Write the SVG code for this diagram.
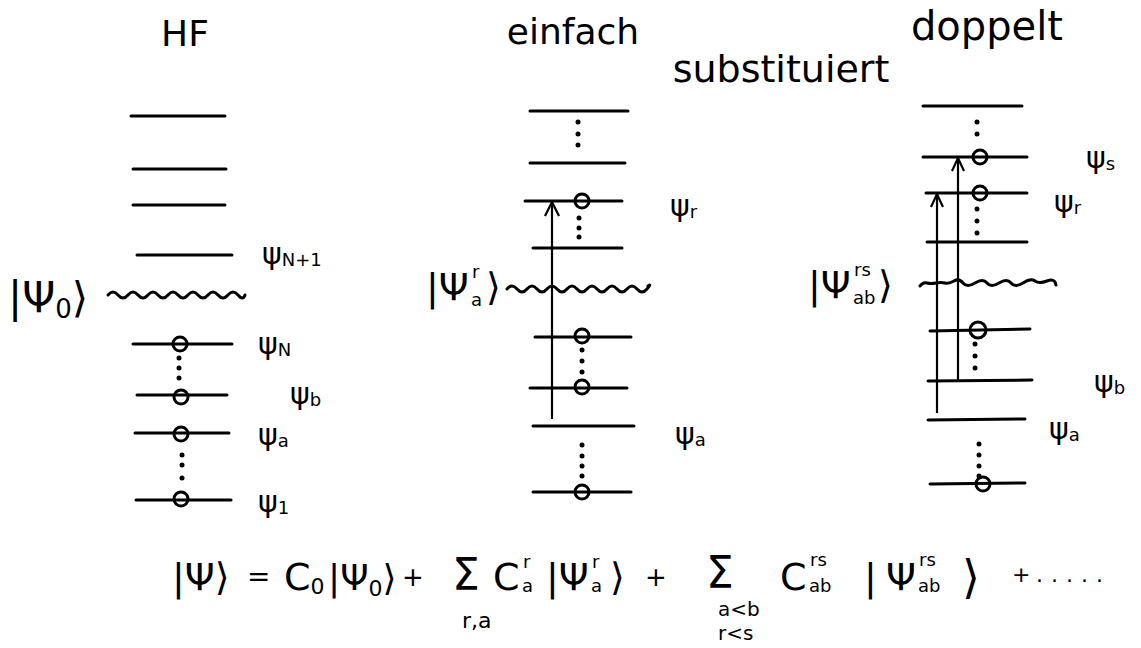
<svg xmlns="http://www.w3.org/2000/svg" width="1141" height="648" viewBox="0 0 1141 648">
<style>
  .lvl { stroke:#000; stroke-width:3; stroke-linecap:round; fill:none; }
  .wave { stroke:#000; stroke-width:3; stroke-linecap:round; fill:none; }
  .occ { stroke:#000; stroke-width:3; fill:none; }
  .dot { fill:#000; }
  .arr { stroke:#000; stroke-width:2.2; fill:none; }
  .t { font-family:"DejaVu Sans","Liberation Sans",sans-serif; fill:#000; }
  .title { font-size:36px; }
  .lab { font-size:30px; }
  .idx { font-size:18px; }
  .ket { font-size:38px; }
  .eq { font-size:38px; }
</style>

<!-- HF column -->
<g id="hf">
  <text class="t title" x="185" y="46" text-anchor="middle">HF</text>
  <line class="lvl" x1="131" y1="116" x2="225" y2="116"/>
  <line class="lvl" x1="133" y1="169" x2="226" y2="169"/>
  <line class="lvl" x1="133" y1="205" x2="225" y2="205"/>
  <line class="lvl" x1="137" y1="255" x2="232" y2="255"/>
  <path class="wave" d="M108,295 q5,-6 10,0 t10,0 t10,0 t10,0 t10,0 t10,0 t10,0 t10,0 t10,0 t10,0 t10,0 t10,0 t10,0 t7,0"/>
  <line class="lvl" x1="133" y1="344" x2="232" y2="344"/>
  <circle class="occ" cx="180" cy="344" r="7"/>
  <circle class="dot" cx="179" cy="358" r="2.5"/><circle class="dot" cx="179" cy="368" r="2.5"/><circle class="dot" cx="179" cy="378" r="2.5"/>
  <line class="lvl" x1="137" y1="395" x2="227" y2="395"/>
  <circle class="occ" cx="181" cy="397" r="7"/>
  <line class="lvl" x1="135" y1="433" x2="229" y2="433"/>
  <circle class="occ" cx="181" cy="434" r="7"/>
  <circle class="dot" cx="182" cy="455" r="2.5"/><circle class="dot" cx="182" cy="465" r="2.5"/><circle class="dot" cx="182" cy="478" r="2.5"/>
  <line class="lvl" x1="136" y1="500" x2="231" y2="500"/>
  <circle class="occ" cx="181" cy="499" r="7"/>
  <text class="t lab" x="262" y="264">ψ<tspan class="idx" dy="2">N+1</tspan></text>
  <text class="t lab" x="258" y="354">ψ<tspan class="idx" dy="2">N</tspan></text>
  <text class="t lab" x="290" y="404">ψ<tspan class="idx" dy="2">b</tspan></text>
  <text class="t lab" x="258" y="445">ψ<tspan class="idx" dy="2">a</tspan></text>
  <text class="t lab" x="258" y="512">ψ<tspan class="idx" dy="2">1</tspan></text>
  <text class="t" x="8" y="312" style="font-size:42px">|Ψ<tspan style="font-size:26px" dy="6">0</tspan><tspan dy="-6">⟩</tspan></text>
</g>

<!-- einfach substituiert column -->
<g id="single">
  <text class="t title" x="573" y="44" text-anchor="middle">einfach</text>
  <text class="t" x="781" y="82" text-anchor="middle" style="font-size:38px">substituiert</text>
  <line class="lvl" x1="530" y1="111" x2="628" y2="111"/>
  <circle class="dot" cx="578" cy="122" r="2.5"/><circle class="dot" cx="578" cy="134" r="2.5"/><circle class="dot" cx="578" cy="145" r="2.5"/>
  <line class="lvl" x1="530" y1="163" x2="625" y2="163"/>
  <line class="lvl" x1="525" y1="201" x2="622" y2="201"/>
  <circle class="occ" cx="582" cy="201" r="7"/>
  <circle class="dot" cx="579" cy="218" r="2.5"/><circle class="dot" cx="579" cy="228" r="2.5"/><circle class="dot" cx="579" cy="237" r="2.5"/>
  <line class="lvl" x1="533" y1="248" x2="622" y2="248"/>
  <path class="wave" d="M507,289 q5,-6 10,0 t10,0 t10,0 t10,0 t10,0 t10,0 t10,0 t10,0 t10,0 t10,0 t10,0 t10,0 t10,0 t10,0 t1,-3"/>
  <line class="lvl" x1="535" y1="337" x2="631" y2="337"/>
  <circle class="occ" cx="582" cy="336" r="7"/>
  <circle class="dot" cx="582" cy="350" r="2.5"/><circle class="dot" cx="582" cy="361" r="2.5"/><circle class="dot" cx="582" cy="372" r="2.5"/>
  <line class="lvl" x1="530" y1="388" x2="627" y2="388"/>
  <circle class="occ" cx="582" cy="387" r="7"/>
  <line class="lvl" x1="533" y1="426" x2="634" y2="426"/>
  <circle class="dot" cx="582" cy="445" r="2.5"/><circle class="dot" cx="582" cy="456" r="2.5"/><circle class="dot" cx="582" cy="466" r="2.5"/><circle class="dot" cx="582" cy="476" r="2.5"/>
  <line class="lvl" x1="533" y1="492" x2="631" y2="492"/>
  <circle class="occ" cx="582" cy="492" r="7"/>
  <text class="t lab" x="670" y="216">ψ<tspan class="idx" dy="2">r</tspan></text>
  <text class="t lab" x="675" y="444">ψ<tspan class="idx" dy="2">a</tspan></text>
  <text class="t ket" x="426" y="300">|Ψ</text>
  <text class="t idx" x="472" y="278">r</text>
  <text class="t idx" x="471" y="306">a</text>
  <text class="t ket" x="486" y="300">⟩</text>
</g>

<!-- doppelt substituiert column -->
<g id="double">
  <text class="t" x="987" y="40" text-anchor="middle" style="font-size:40px">doppelt</text>
  <line class="lvl" x1="923" y1="106" x2="1022" y2="106"/>
  <circle class="dot" cx="977" cy="122" r="2.5"/><circle class="dot" cx="977" cy="134" r="2.5"/>
  <line class="lvl" x1="923" y1="157" x2="1027" y2="157"/>
  <circle class="occ" cx="980" cy="157" r="7"/>
  <line class="lvl" x1="926" y1="193" x2="1027" y2="193"/>
  <circle class="occ" cx="980" cy="193" r="7"/>
  <circle class="dot" cx="977" cy="209" r="2.5"/><circle class="dot" cx="977" cy="221" r="2.5"/><circle class="dot" cx="977" cy="233" r="2.5"/>
  <line class="lvl" x1="927" y1="242" x2="1027" y2="242"/>
  <path class="wave" d="M920,286 q3,-4 7,-3 t9,0 t9,0 t9,-2 t9,2 t12,0 t12,0 t12,0 t12,0 t12,0 t12,-2 t12,0 t9,4"/>
  <line class="lvl" x1="930" y1="331" x2="1030" y2="329"/>
  <circle class="occ" cx="978" cy="330" r="8"/>
  <circle class="dot" cx="975" cy="344" r="2.5"/><circle class="dot" cx="975" cy="356" r="2.5"/><circle class="dot" cx="975" cy="368" r="2.5"/>
  <line class="lvl" x1="928" y1="381" x2="1032" y2="380"/>
  <line class="lvl" x1="928" y1="420" x2="1025" y2="419"/>
  <circle class="dot" cx="979" cy="444" r="2.5"/><circle class="dot" cx="979" cy="455" r="2.5"/><circle class="dot" cx="979" cy="466" r="2.5"/><circle class="dot" cx="979" cy="476" r="2.5"/>
  <line class="lvl" x1="930" y1="484" x2="1025" y2="483"/>
  <circle class="occ" cx="983" cy="484" r="7"/>
  <text class="t lab" x="1086" y="168">ψ<tspan class="idx" dy="2">s</tspan></text>
  <text class="t lab" x="1054" y="212">ψ<tspan class="idx" dy="2">r</tspan></text>
  <text class="t lab" x="1094" y="392">ψ<tspan class="idx" dy="2">b</tspan></text>
  <text class="t lab" x="1049" y="439">ψ<tspan class="idx" dy="2">a</tspan></text>
  <text class="t ket" x="808" y="298">|Ψ</text>
  <text class="t idx" x="854" y="276">rs</text>
  <text class="t idx" x="853" y="304">ab</text>
  <text class="t ket" x="878" y="298">⟩</text>
</g>

<!-- excitation arrows -->
<g id="connectors">
  <line class="arr" x1="552" y1="419" x2="552" y2="202"/>
  <polyline class="arr" points="545,216 552,202 559,216"/>
  <line class="arr" x1="937" y1="413" x2="937" y2="194"/>
  <polyline class="arr" points="931,207 937,194 943,207"/>
  <line class="arr" x1="958" y1="380" x2="958" y2="158"/>
  <polyline class="arr" points="952,171 958,158 964,171"/>
</g>

<!-- expansion formula -->
<g id="formula">
  <text class="t eq" x="172" y="590">|Ψ⟩</text>
  <text class="t" x="247" y="586" style="font-size:28px">=</text>
  <text class="t eq" x="284" y="590">C<tspan style="font-size:22px" dy="4">0</tspan></text>
  <text class="t" x="328" y="590" style="font-size:36px">|Ψ<tspan style="font-size:22px" dy="6">0</tspan><tspan dy="-6">⟩</tspan></text>
  <text class="t" x="402" y="586" style="font-size:26px">+</text>
  <text class="t" x="452" y="590" style="font-size:44px">Σ</text>
  <text class="t" x="462" y="628" style="font-size:22px">r,a</text>
  <text class="t eq" x="493" y="590">C</text>
  <text class="t idx" x="523" y="568">r</text>
  <text class="t idx" x="522" y="592">a</text>
  <text class="t eq" x="546" y="590">|Ψ</text>
  <text class="t idx" x="592" y="568">r</text>
  <text class="t idx" x="591" y="592">a</text>
  <text class="t eq" x="610" y="590">⟩</text>
  <text class="t" x="645" y="586" style="font-size:26px">+</text>
  <text class="t" x="706" y="588" style="font-size:44px">Σ</text>
  <text class="t" x="718" y="616" style="font-size:20px">a&lt;b</text>
  <text class="t" x="718" y="640" style="font-size:20px">r&lt;s</text>
  <text class="t eq" x="780" y="590">C</text>
  <text class="t idx" x="810" y="566">rs</text>
  <text class="t idx" x="809" y="592">ab</text>
  <text class="t eq" x="864" y="590">|</text>
  <text class="t eq" x="886" y="590">Ψ</text>
  <text class="t idx" x="919" y="566">rs</text>
  <text class="t idx" x="918" y="592">ab</text>
  <text class="t" x="962" y="593" style="font-size:46px">⟩</text>
  <text class="t" x="1012" y="582" style="font-size:22px">+</text>
  <text class="t" x="1036" y="582" style="font-size:22px" letter-spacing="8">.....</text>
</g>
</svg>
